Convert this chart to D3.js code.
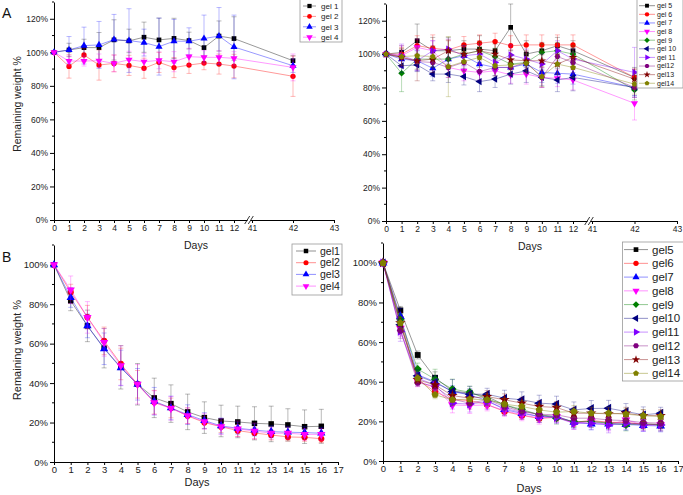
<!DOCTYPE html>
<html>
<head>
<meta charset="utf-8">
<script src="https://cdn.jsdelivr.net/npm/d3@7"></script>
<style>
body { margin: 0; background: #fff; }
svg { font-family: "Liberation Sans", Arial, sans-serif; }
</style>
</head>
<body>
<script>
// ---- data ----
var daysA = [0, 1, 2, 3, 4, 5, 6, 7, 8, 9, 10, 11, 12, 42];
var daysB = [0, 1, 2, 3, 4, 5, 6, 7, 8, 9, 10, 11, 12, 13, 14, 15, 16];

var xTicksA = [0, 1, 2, 3, 4, 5, 6, 7, 8, 9, 10, 11, 12, 41, 42, 43];
var xTicksB = [0, 1, 2, 3, 4, 5, 6, 7, 8, 9, 10, 11, 12, 13, 14, 15, 16, 17];
var yTicksA = [0, 20, 40, 60, 80, 100, 120];
var yTicksB = [0, 20, 40, 60, 80, 100];

var namesA1 = ["gel 1", "gel 2", "gel 3", "gel 4"];
var valuesA1 = [
	[100, 101.4, 102.8, 102.8, 107.4, 106.8, 109, 107.4, 108.3, 107, 102.8, 109.7, 108.2, 95],
	[100, 91.6, 98.4, 92.4, 93.4, 92.2, 90.5, 94, 90.9, 92.4, 93.6, 93, 91.8, 85.7],
	[100, 101.4, 104, 104.4, 107.6, 107, 105.8, 103.4, 106.6, 106.6, 108.2, 109.7, 103.2, 92],
	[100, 94.8, 94.8, 95, 93.4, 95.6, 94.4, 95.2, 94.4, 97.4, 97, 97, 96.4, 91]
];
var errorsA1 = [
	[0, 4, 5, 9, 12, 7, 9, 13, 12, 5, 5, 9, 13, 3],
	[0, 7, 4, 9, 5, 6, 6, 6, 6, 5, 4, 6, 7, 12],
	[0, 8, 11, 14, 15, 19, 8, 17, 13, 8, 14, 17, 19, 4],
	[0, 3, 3, 4, 5, 5, 5, 5, 6, 5, 4, 4, 4, 8]
];

var namesA2 = ["gel 5", "gel 6", "gel 7", "gel 8", "gel 9", "gel 10", "gel 11", "gel12", "gel13", "gel14"];
var valuesA2 = [
	[100, 101, 108, 102, 102, 103, 103, 102, 116, 100, 102, 105, 102, 86],
	[100, 100, 105, 103.5, 102.5, 105.5, 106.5, 107.5, 105, 105.5, 105.5, 105.5, 105.5, 86],
	[100, 97, 96, 91.5, 97, 99, 94, 92, 92, 94, 89, 88.5, 88, 80],
	[100, 99, 104, 102, 92, 90, 89, 90, 87.5, 88, 86, 85.5, 84.5, 70.5],
	[100, 88.5, 97, 97, 97, 100, 102, 98.5, 94, 95, 101, 102, 100, 78.5],
	[100, 93, 93.5, 88, 88, 86.5, 83.5, 85, 88, 90, 86, 84.5, 86, 80],
	[100, 99, 96, 102, 103, 99, 100, 95, 99.5, 97, 94, 102, 97, 89],
	[100, 98, 95.5, 95, 92, 95, 89.5, 92, 92, 95, 86, 98.5, 95, 80],
	[100, 98, 96, 97, 102, 100, 102, 100, 96.5, 96, 96, 94, 98, 85],
	[100, 98.5, 99, 98.5, 92.5, 95.5, 98, 93, 93.5, 94.5, 86.5, 94, 92, 82]
];
var errorsA2 = [
	[0, 4, 10, 8, 8, 5, 8, 6, 14, 8, 5, 5, 6, 6],
	[0, 4, 6, 8, 6, 5, 5, 5, 6, 6, 6, 6, 6, 5],
	[0, 5, 6, 5, 6, 6, 6, 5, 5, 6, 6, 6, 6, 5],
	[0, 6, 5, 6, 6, 6, 5, 5, 5, 6, 6, 5, 6, 10],
	[0, 11, 6, 5, 6, 5, 5, 5, 5, 5, 5, 5, 5, 6],
	[0, 4, 4, 4, 5, 5, 6, 5, 6, 7, 5, 7, 8, 5],
	[0, 7, 6, 6, 6, 6, 6, 5, 6, 6, 6, 6, 6, 15],
	[0, 5, 5, 5, 6, 5, 5, 5, 5, 6, 6, 5, 6, 6],
	[0, 5, 12, 8, 6, 6, 6, 6, 6, 6, 6, 6, 6, 6],
	[0, 5, 5, 6, 18, 6, 6, 6, 6, 6, 6, 6, 6, 6]
];

var namesB1 = ["gel1", "gel2", "gel3", "gel4"];
var valuesB1 = [
	[100, 81.7, 69, 57.7, 48, 39.4, 32.5, 29.6, 25.4, 22.5, 20.8, 20.3, 19.6, 19.3, 18.8, 17.9, 18.1],
	[100, 86.1, 73.4, 61.4, 49.7, 39.4, 30.3, 27.4, 23.4, 20, 17.9, 15.9, 14.7, 13.7, 12.7, 12.5, 11.8],
	[100, 83.4, 69, 57.4, 47.7, 39.4, 30.8, 27.4, 24, 21, 18.3, 17.1, 16.2, 15.4, 15.1, 14.9, 14.6],
	[100, 87.3, 73.3, 60.6, 48.9, 39.4, 30.1, 27.2, 23.5, 20.5, 17.9, 16.8, 15.7, 14.6, 14.6, 14, 14]
];
var errorsB1 = [
	[0, 5, 8, 10, 11, 10.5, 10, 9.5, 9, 8, 8, 8, 8.4, 9, 8.2, 8.5, 8.6],
	[0, 4, 6, 7, 8, 7, 6, 5, 4, 3, 3, 3, 3, 2.5, 2, 2, 2],
	[0, 5, 6, 8, 9, 8, 7, 6, 5, 4, 4, 3, 3, 3, 3, 3, 3],
	[0, 7, 8, 7, 10, 10, 6, 6, 4, 4, 4, 4, 4, 3, 3, 3, 3]
];

var namesB2 = ["gel5", "gel6", "gel7", "gel8", "gel9", "gel10", "gel11", "gel12", "gel13", "gel14"];
var valuesB2 = [
	[100, 76, 53.5, 42, 35.4, 34.2, 32.5, 28.3, 25.5, 23.3, 22.4, 19.6, 19.9, 19.4, 19.1, 18.7, 18.4],
	[100, 72, 41, 35, 31, 30.5, 28.5, 25, 23, 21.5, 22, 19.5, 20.5, 19.5, 19.5, 18.5, 18.5],
	[100, 73, 43.5, 40, 35, 33.4, 30.5, 26, 24, 22.5, 22.5, 19.6, 18.7, 18.7, 18.5, 17.9, 17.7],
	[100, 67, 40.5, 36.8, 28.3, 28, 28.3, 25.5, 23.3, 21.6, 22.4, 19, 19.9, 18.2, 20.7, 18.2, 18.2],
	[100, 71.3, 46.4, 41.3, 36.3, 34.7, 31.4, 28.3, 26.1, 23.3, 21.6, 19.9, 19.9, 19.1, 18.2, 18.7, 18.2],
	[100, 68.8, 43, 39.6, 35.1, 33.7, 33.7, 31.7, 30.9, 29.2, 28.7, 25.8, 26.5, 26.6, 25, 23.3, 24.1],
	[100, 65.4, 41.8, 38.4, 29.2, 28.7, 30, 26.6, 24.5, 22.4, 21.9, 19, 19, 18.2, 19, 18.2, 18.2],
	[100, 65.9, 39.6, 37.6, 31.2, 29.2, 30.9, 27.5, 25, 23.6, 23.3, 21.6, 21.6, 20.7, 20.4, 19.4, 19.1],
	[100, 69.6, 41, 38.4, 33, 31.7, 32.5, 30.9, 29.2, 27.5, 27, 24.1, 24.1, 23.8, 24.1, 22.9, 22.9],
	[100, 69.6, 41.8, 33.4, 30.9, 31.2, 30.9, 28.7, 27.5, 25.8, 24.6, 25, 24.1, 24.1, 23.6, 22.9, 22.4]
];
var errorsB2 = [
	[0, 2, 2, 3, 2, 2, 2, 2, 2, 2, 2, 2, 2, 2, 2, 2, 2],
	[0, 3, 2, 2, 2, 2, 2, 2, 2, 2, 2, 2, 2, 2, 2, 2, 2],
	[0, 4, 3, 3, 3, 3, 3, 3, 3, 3, 3, 3, 3, 3, 3, 3, 3],
	[0, 4, 3, 3, 4, 4, 3, 3, 3, 3, 3, 3, 3, 3, 3, 3, 3],
	[0, 3, 3, 5, 5, 3, 3, 3, 3, 3, 3, 3, 3, 3, 3, 3, 3],
	[0, 3, 3, 3, 6, 4, 3, 4, 4, 4, 4, 4, 4, 4, 4, 4, 3],
	[0, 5, 3, 3, 3, 4, 4, 3, 3, 3, 3, 3, 3, 4, 3, 3, 3],
	[0, 4, 2, 2, 3, 3, 3, 3, 3, 3, 3, 3, 3, 3, 3, 3, 3],
	[0, 3, 2, 2, 3, 3, 3, 3, 3, 3, 3, 3, 3, 3, 3, 3, 3],
	[0, 3, 2, 2, 3, 3, 3, 3, 3, 3, 3, 3, 3, 3, 3, 3, 3]
];

// ---- style ----
var colors = ["#000000", "#ff0000", "#0000ff", "#ff00ff", "#008000", "#000080", "#8000ff", "#800080", "#800000", "#808000"];

function polygon(n, rot) {
	return {
		draw: function (ctx, size) {
			var r = Math.sqrt(size / (n / 2 * Math.sin(2 * Math.PI / n)));
			for (var i = 0; i < n; i++) {
				var a = rot + i * 2 * Math.PI / n;
				if (i === 0) ctx.moveTo(r * Math.sin(a), -r * Math.cos(a));
				else ctx.lineTo(r * Math.sin(a), -r * Math.cos(a));
			}
			ctx.closePath();
		}
	};
}
// symbol type + rotation for each series
var shapes = [
	[d3.symbolSquare, 0], [d3.symbolCircle, 0], [d3.symbolTriangle, 0], [d3.symbolTriangle, 180],
	[d3.symbolSquare, 45], [d3.symbolTriangle, -90], [d3.symbolTriangle, 90],
	[polygon(6, Math.PI / 6), 0], [d3.symbolStar, 0], [polygon(5, 0), 0]
];

var svg = d3.select("body").append("svg")
	.attr("width", 683)
	.attr("height", 495);

function drawPanel(p) {
	var g = svg.append("g");
	var x = d3.scaleLinear().domain(p.xDomain).range(p.xRange);
	var y = d3.scaleLinear().domain(p.yDomain).range(p.yRange);
	var x0 = p.xRange[0];

	// y axis
	var yAxis = d3.axisLeft(y)
		.tickValues(p.yTicks)
		.tickFormat(function (d) { return d + "%"; })
		.tickSize(4)
		.tickSizeOuter(0)
		.tickPadding(2);
	var ya = g.append("g")
		.attr("transform", "translate(" + x0 + ",0)")
		.call(yAxis);
	ya.selectAll("text").attr("font-size", p.tickFont).attr("fill", "#222");
	ya.append("g").selectAll("line")
		.data(d3.range(10, p.yDomain[1] + 1, 20))
		.enter().append("line")
		.attr("x1", -2).attr("x2", 0)
		.attr("y1", function (d) { return y(d); })
		.attr("y2", function (d) { return y(d); })
		.attr("stroke", "#000");

	// x axis
	var xAxis = d3.axisBottom(x)
		.tickValues(p.xTicks)
		.tickFormat(d3.format("d"))
		.tickSize(3)
		.tickSizeOuter(0)
		.tickPadding(p.xPad);
	var xa = g.append("g")
		.attr("transform", "translate(0," + p.yRange[0] + ")")
		.call(xAxis);
	xa.selectAll("text").attr("font-size", p.tickFont).attr("fill", "#222");
	g.selectAll(".domain").attr("stroke", "#000");

	// axis break
	if (p.breakAt) {
		var bx = x(p.breakAt) - 3, by = p.yRange[0];
		g.append("rect").attr("x", bx - 1.5).attr("y", by - 1).attr("width", 3).attr("height", 2).attr("fill", "#fff");
		[-1.8, 1.8].forEach(function (o) {
			g.append("line")
				.attr("x1", bx + o - 2.5).attr("y1", by + 4)
				.attr("x2", bx + o + 2.5).attr("y2", by - 4)
				.attr("stroke", "#000").attr("stroke-width", 0.8);
		});
	}

	// series
	var line = d3.line()
		.x(function (d) { return x(d[0]); })
		.y(function (d) { return y(d[1]); });

	p.values.forEach(function (vals, i) {
		var c = colors[p.colorIdx[i]];
		var sh = shapes[p.colorIdx[i]];
		var pts = vals.map(function (v, j) { return [p.days[j], v, p.errors[i][j]]; });
		var s = g.append("g");

		var eb = s.selectAll(".err").data(pts.filter(function (d) { return d[2] > 0; }))
			.enter().append("g")
			.attr("stroke", c).attr("stroke-opacity", 0.35).attr("stroke-width", 0.8);
		eb.append("line")
			.attr("x1", function (d) { return x(d[0]); })
			.attr("x2", function (d) { return x(d[0]); })
			.attr("y1", function (d) { return y(d[1] - d[2]); })
			.attr("y2", function (d) { return y(d[1] + d[2]); });
		[-1, 1].forEach(function (sgn) {
			eb.append("line")
				.attr("x1", function (d) { return x(d[0]) - 2.5; })
				.attr("x2", function (d) { return x(d[0]) + 2.5; })
				.attr("y1", function (d) { return y(d[1] + sgn * d[2]); })
				.attr("y2", function (d) { return y(d[1] + sgn * d[2]); });
		});

		s.append("path")
			.datum(pts)
			.attr("d", line)
			.attr("fill", "none")
			.attr("stroke", c)
			.attr("stroke-opacity", 0.5)
			.attr("stroke-width", 0.8);

		s.selectAll(".pt").data(pts)
			.enter().append("path")
			.attr("d", d3.symbol().type(sh[0]).size(p.markSize))
			.attr("transform", function (d) { return "translate(" + x(d[0]) + "," + y(d[1]) + ") rotate(" + sh[1] + ")"; })
			.attr("fill", c);
	});

	// axis titles
	g.append("text")
		.attr("x", p.daysPos[0]).attr("y", p.daysPos[1])
		.attr("text-anchor", "middle")
		.attr("font-size", p.titleFont)
		.attr("fill", "#222")
		.text("Days");
	if (p.yTitlePos) {
		g.append("text")
			.attr("transform", "translate(" + p.yTitlePos[0] + "," + p.yTitlePos[1] + ") rotate(-90)")
			.attr("text-anchor", "middle")
			.attr("font-size", p.titleFont)
			.attr("fill", "#222")
			.text("Remaining weight %");
	}

	// legend
	var L = p.legend;
	var lg = g.append("g");
	lg.append("rect")
		.attr("x", L.x).attr("y", L.y)
		.attr("width", L.w).attr("height", L.h)
		.attr("fill", "#fff")
		.attr("stroke", "#999").attr("stroke-width", 0.8);
	p.names.forEach(function (name, i) {
		var c = colors[p.colorIdx[i]];
		var sh = shapes[p.colorIdx[i]];
		var ry = L.y0 + i * L.dy;
		lg.append("line")
			.attr("x1", L.lx1).attr("x2", L.lx2)
			.attr("y1", ry).attr("y2", ry)
			.attr("stroke", c).attr("stroke-opacity", 0.55).attr("stroke-width", 0.8);
		lg.append("path")
			.attr("d", d3.symbol().type(sh[0]).size(L.markSize))
			.attr("transform", "translate(" + ((L.lx1 + L.lx2) / 2) + "," + ry + ") rotate(" + sh[1] + ")")
			.attr("fill", c);
		lg.append("text")
			.attr("x", L.tx).attr("y", ry)
			.attr("dy", "0.35em")
			.attr("font-size", L.font)
			.attr("fill", "#222")
			.text(name);
	});
}

drawPanel({
	days: daysA, values: valuesA1, errors: errorsA1, names: namesA1, colorIdx: [0, 1, 2, 3],
	xDomain: [0, 12, 41, 43], xRange: [54, 234, 252, 334], breakAt: 41,
	yDomain: [0, 130], yRange: [220, 2],
	xTicks: xTicksA, yTicks: yTicksA, tickFont: 8.5, titleFont: 10.5, markSize: 22, xPad: 2,
	daysPos: [196, 249], yTitlePos: [21, 104],
	legend: { x: 300, y: -1, w: 42, h: 43, y0: 6, dy: 10.4, lx1: 303, lx2: 316, tx: 321, font: 8, markSize: 18 }
});

drawPanel({
	days: daysA, values: valuesA2, errors: errorsA2, names: namesA2, colorIdx: [0, 1, 2, 3, 4, 5, 6, 7, 8, 9],
	xDomain: [0, 12, 41, 43], xRange: [386, 573, 592, 677], breakAt: 41,
	yDomain: [0, 130], yRange: [221, 4],
	xTicks: xTicksA, yTicks: yTicksA, tickFont: 8.5, titleFont: 10.5, markSize: 22, xPad: 2,
	daysPos: [530, 250], yTitlePos: null,
	legend: { x: 637, y: -1, w: 46, h: 89, y0: 5.7, dy: 8.62, lx1: 639, lx2: 655, tx: 657, font: 7, markSize: 15 }
});

drawPanel({
	days: daysB, values: valuesB1, errors: errorsB1, names: namesB1, colorIdx: [0, 1, 2, 3],
	xDomain: [0, 17], xRange: [54, 338],
	yDomain: [0, 110], yRange: [462, 245],
	xTicks: xTicksB, yTicks: yTicksB, tickFont: 9.5, titleFont: 11, markSize: 30, xPad: 1,
	daysPos: [197, 486], yTitlePos: [21, 350],
	legend: { x: 292, y: 244, w: 50, h: 51, y0: 251, dy: 11.7, lx1: 296, lx2: 316, tx: 320, font: 10.5, markSize: 20 }
});

drawPanel({
	days: daysB, values: valuesB2, errors: errorsB2, names: namesB2, colorIdx: [0, 1, 2, 3, 4, 5, 6, 7, 8, 9],
	xDomain: [0, 17], xRange: [383, 678],
	yDomain: [0, 110], yRange: [461, 243],
	xTicks: xTicksB, yTicks: yTicksB, tickFont: 9.5, titleFont: 11, markSize: 34, xPad: 1,
	daysPos: [529, 492], yTitlePos: null,
	legend: { x: 622.5, y: 242, w: 61, h: 139, y0: 249.6, dy: 13.75, lx1: 624, lx2: 648, tx: 652, font: 11.5, markSize: 22 }
});

// panel letters
svg.append("text").attr("x", 2).attr("y", 18).attr("font-size", 14).attr("fill", "#111").text("A");
svg.append("text").attr("x", 2).attr("y", 262).attr("font-size", 14).attr("fill", "#111").text("B");
</script>
</body>
</html>
